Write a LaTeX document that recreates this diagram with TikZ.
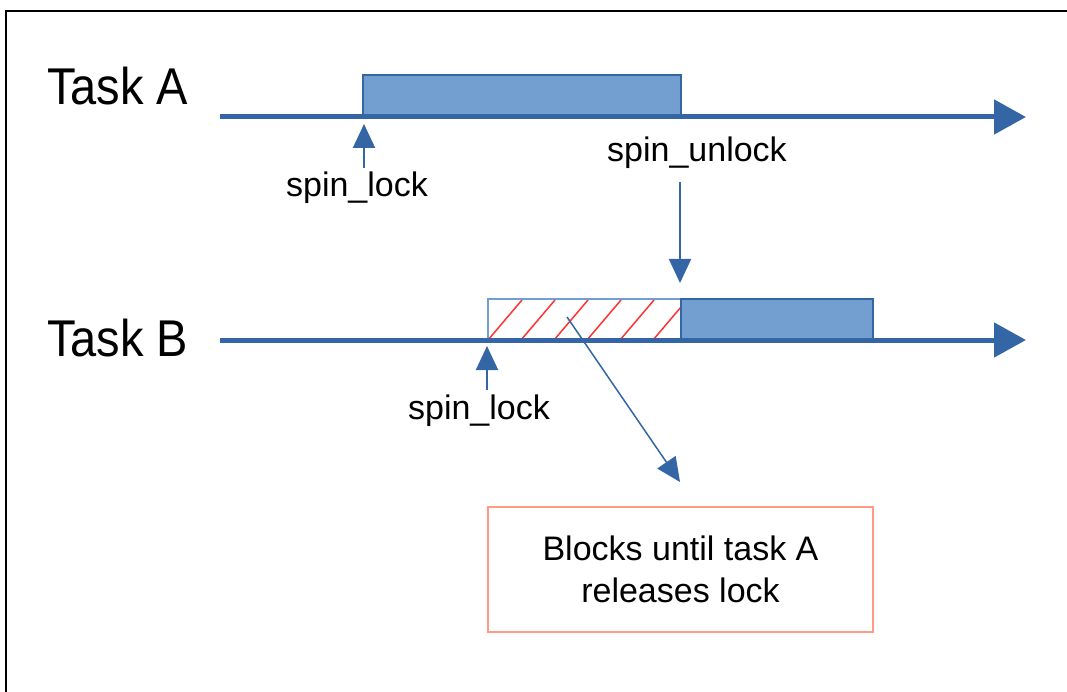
\documentclass[tikz,border=0pt]{standalone}
\usepackage{fontspec}
\setmainfont{Liberation Sans}
\usetikzlibrary{arrows.meta}
\definecolor{lineblue}{HTML}{3465A4}
\definecolor{barblue}{HTML}{729FCF}
\definecolor{hatchred}{HTML}{FF3333}
\definecolor{noteedge}{HTML}{FF9A85}
\tikzset{
  timeline/.style={draw=lineblue, line width=5pt, -{Triangle[length=32pt,width=34pt]}},
  runbar/.style={fill=barblue, draw=lineblue, line width=1.5pt},
  waitbar/.style={fill=white, draw=barblue, line width=1.5pt},
  pointer/.style={draw=lineblue, line width=2pt, -{Triangle[length=24pt,width=22pt]}},
  tasklabel/.style={anchor=base west, inner sep=0pt, font=\fontsize{47}{50}\selectfont},
  eventlabel/.style={anchor=base, inner sep=0pt, font=\fontsize{34}{40}\selectfont},
  note/.style={draw=noteedge, line width=2pt, minimum width=385pt, minimum height=125pt,
    align=center, font=\fontsize{34}{42}\selectfont}
}
\begin{document}
\begin{tikzpicture}[x=1pt, y=-1pt]
  \useasboundingbox (0,0) rectangle (1067,692);

  % frame edges
  \draw[line width=2pt] (6,692) -- (6,11) -- (1067,11);

  % task labels
  \node[tasklabel] (taskA) at (47,105) {\scalebox{1}[1.1]{Task A}};
  \node[tasklabel] (taskB) at (47,356) {\scalebox{1}[1.1]{Task B}};

  % task A: holding the lock
  \draw[runbar] (363,75) rectangle (681,117);
  \coordinate (a0) at (220,117);
  \coordinate (a1) at (1026,117);
  \draw[timeline] (a0) -- (a1);

  % task B: spinning, then holding the lock
  \draw[waitbar] (488,299) rectangle (681,340);
  \begin{scope}
    \clip (488,299) rectangle (681,340);
    \foreach \i in {0,...,5}
      \draw[hatchred, line width=1.5pt] ({488+33*\i},340) -- ({488+33*\i+34},300);
  \end{scope}
  \draw[runbar] (681,299) rectangle (873,340);
  \coordinate (b0) at (220,340);
  \coordinate (b1) at (1026,340);
  \draw[timeline] (b0) -- (b1);

  % event labels and their pointers
  \node[eventlabel] (lockA) at (357,197) {spin\_lock};
  \coordinate (lockAtail) at (364,168);
  \coordinate (lockAtip) at (364,124);
  \draw[pointer] (lockAtail) -- (lockAtip);

  \node[eventlabel] (unlockA) at (697,162) {spin\_unlock};
  \coordinate (unlockTail) at (680,182);
  \coordinate (unlockTip) at (680,283);
  \draw[pointer] (unlockTail) -- (unlockTip);

  \node[eventlabel] (lockB) at (479,419) {spin\_lock};
  \coordinate (lockBtail) at (487,390);
  \coordinate (lockBtip) at (487,346);
  \draw[pointer] (lockBtail) -- (lockBtip);

  % explanation of the hatched interval
  \node[note] (blocks) at (680.5,569.5) {Blocks until task A\\releases lock};
  \coordinate (spinMid) at (567,317);
  \coordinate (noteTip) at (680,482);
  \draw[pointer, line width=1.5pt] (spinMid) -- (noteTip);
\end{tikzpicture}
\end{document}
